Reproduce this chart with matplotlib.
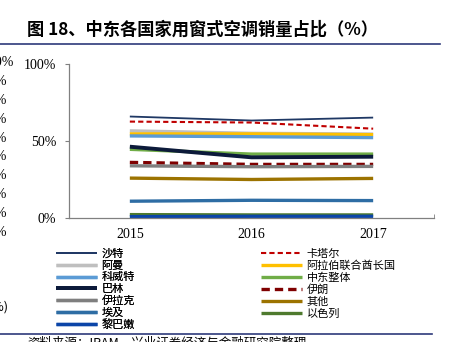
import numpy as np
import matplotlib.pyplot as plt
from matplotlib.ticker import FixedLocator

plt.rcParams['font.family'] = ['Noto Sans CJK SC', 'DejaVu Sans']

# data (share of sales, %)
years = ["2015", "2016", "2017"]
saudi = [65.9, 63.3, 65.2]
qatar = [62.6, 62.0, 58.0]
oman = [56.6, 55.0, 54.5]
uae = [54.6, 54.6, 54.1]
kuwait = [53.3, 52.8, 52.2]
mideast = [44.6, 41.5, 41.5]
bahrain = [46.3, 39.4, 39.8]
iran = [36.1, 34.8, 34.8]
iraq = [33.9, 33.3, 33.5]
others = [25.9, 25.0, 25.7]
egypt = [10.9, 11.5, 11.3]
israel = [2.2, 2.0, 2.0]
lebanon = [0.9, 1.1, 1.1]

series = [
    ("沙特", saudi, "#1F3864", 1.3, "-"),
    ("卡塔尔", qatar, "#C00000", 1.5, (0, (2.5, 1.5))),
    ("阿曼", oman, "#BFBFBF", 2.4, "-"),
    ("阿拉伯联合酋长国", uae, "#FFC000", 2.4, "-"),
    ("科威特", kuwait, "#5B9BD5", 2.4, "-"),
    ("中东整体", mideast, "#70AD47", 2.4, "-"),
    ("巴林", bahrain, "#0C1A3A", 2.8, "-"),
    ("伊朗", iran, "#7F0000", 2.4, (0, (2.5, 1.5))),
    ("伊拉克", iraq, "#7F7F7F", 2.4, "-"),
    ("其他", others, "#9C7300", 2.4, "-"),
    ("埃及", egypt, "#2E6DA4", 2.4, "-"),
    ("以色列", israel, "#4E7A2E", 2.4, "-"),
    ("黎巴嫩", lebanon, "#0B45A8", 2.4, "-"),
]

fig = plt.figure(figsize=(4.53, 3.42), dpi=100)
ax = fig.add_axes([69 / 453, 1 - 218 / 342, (434 - 69) / 453, (218 - 64) / 342])

x = np.arange(len(years))
handles = {}
for name, vals, color, lw, ls in series:
    h, = ax.plot(x, vals, color=color, lw=lw, linestyle=ls, solid_capstyle='butt')
    handles[name] = h

ax.set_xlim(-0.5, 2.5)
ax.set_ylim(0, 100)
ax.set_yticks([0, 50, 100])
ax.set_yticklabels(["0%", "50%", "100%"])
ax.set_xticks(x)
ax.set_xticklabels(years)
ax.xaxis.set_minor_locator(FixedLocator([0.5, 1.5, 2.5]))
ax.tick_params(axis='x', which='major', length=0, pad=7)
ax.tick_params(axis='x', which='minor', length=3, direction='in', color='#808080')
ax.tick_params(axis='y', length=3, color='#808080', pad=6)
for lab in ax.get_xticklabels() + ax.get_yticklabels():
    lab.set_fontfamily('Liberation Serif')
    lab.set_fontsize(10)
for s in ['top', 'right']:
    ax.spines[s].set_visible(False)
for s in ['left', 'bottom']:
    ax.spines[s].set_color('#808080')
    ax.spines[s].set_linewidth(0.9)

# legend in two columns, filled row by row
col1 = ["沙特", "阿曼", "科威特", "巴林", "伊拉克", "埃及", "黎巴嫩"]
col2 = ["卡塔尔", "阿拉伯联合酋长国", "中东整体", "伊朗", "其他", "以色列"]
leg_kw = dict(frameon=False, fontsize=8, handlelength=3.7, handletextpad=0.4,
              labelspacing=0.14, borderpad=0, borderaxespad=0, loc='upper left')
leg1 = fig.legend([handles[n] for n in col1], col1,
                  bbox_to_anchor=(56 / 453, 1 - 249 / 342), **leg_kw)
fig.add_artist(leg1)
fig.legend([handles[n] for n in col2], col2,
           bbox_to_anchor=(261 / 453, 1 - 249 / 342), **leg_kw)

# title and rules
fig.text(27 / 453, 1 - 30 / 342, "图 18、中东各国家用窗式空调销量占比（%）",
         fontsize=12.4, fontweight='bold', va='center', ha='left')
fig.add_artist(plt.Line2D([0, 440 / 453], [1 - 44 / 342] * 2, color='#2E3A7A', lw=1.2))
fig.add_artist(plt.Line2D([0, 432 / 453], [1 - 334 / 342] * 2, color='#2E3A7A', lw=1.2))

# source line, cut by the bottom edge
fig.text(27 / 453, 1 - 337 / 342, "资料来源：IRAM，兴业证券经济与金融研究院整理",
         fontsize=9, va='top', ha='left')

# labels of the neighbouring chart, cut at the left edge
ghost = ["100%", "90%", "80%", "70%", "60%", "50%", "40%", "30%", "20%", "10%"]
for i, g in enumerate(ghost):
    right = 14 if i == 0 else 7
    fig.text(right / 453, 1 - (63 + i * 18.8) / 342, g, fontsize=10,
             fontfamily='Liberation Serif', ha='right', va='center')
fig.text(9 / 453, 1 - 307 / 342, "(%)", fontsize=9, ha='right', va='center')

fig.savefig("out.png", dpi=100)
